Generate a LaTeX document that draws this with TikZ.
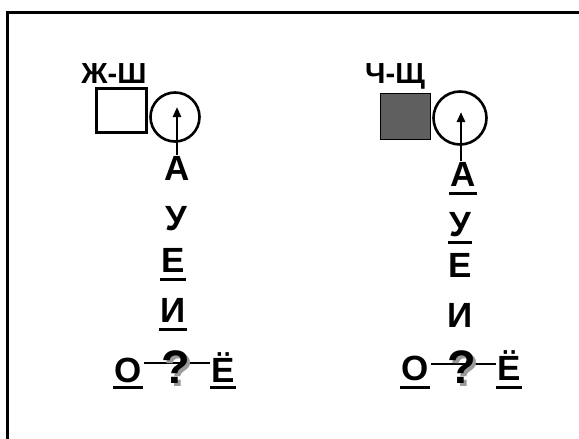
\documentclass[tikz,border=0pt]{standalone}
\usepackage{fontspec}
\setmainfont{Liberation Sans}
\usetikzlibrary{arrows.meta}
\definecolor{boxgray}{HTML}{5F5F5F}
\definecolor{shade}{HTML}{9A9A9A}
% question mark with a soft grey drop shadow behind it
\newcommand{\shadedq}{\makebox[0pt][l]{\hspace{3pt}\raisebox{-3pt}{\color{shade}?}}?}
\tikzset{
  letter/.style={font=\fontsize{35}{35}\selectfont\bfseries, inner sep=1pt, anchor=base},
  pair/.style={font=\fontsize{29}{29}\selectfont\bfseries, inner sep=0pt, anchor=base},
  qmark/.style={font=\fontsize{47}{47}\selectfont\bfseries, inner sep=0pt, anchor=base},
  uline/.style={line width=3pt},
  link/.style={line width=1.2pt},
  pointer/.style={line width=2.6pt, -{Triangle[length=10pt,width=8pt]}},
  ring/.style={draw, circle, line width=2.6pt, inner sep=0pt},
  frame/.style={line width=3pt},
}
\begin{document}
\begin{tikzpicture}[x=1pt, y=-1pt]
\useasboundingbox (0,0) rectangle (579,439);
% page frame (top and left edges)
\draw[frame] (7,439) -- (7,12) -- (579,12);

% ---- left column: Ж-Ш ----
\node[pair] (zh) at (114,83) {Ж-Ш};
\node[draw, line width=3pt, minimum width=50pt, minimum height=44pt, inner sep=0pt] (sq1) at (121,110) {};
\node[ring, minimum size=49pt] (c1) at (175,117) {};
\node[letter] (a1) at (177,180) {А};
\node[letter] (u1) at (176,230) {У};
\node[letter] (e1) at (173,272) {Е};
\node[letter] (i1) at (173,322) {И};
\node[letter] (o1) at (128,382) {О};
\node[letter] (yo1) at (223,382) {Ё};
\coordinate (t1) at (177,107);
\draw[pointer] (a1.north -| t1) -- (t1);
\draw[uline] (e1.base west) ++(0,7) coordinate (e1l) -- (e1l -| e1.base east);
\draw[uline] (i1.base west) ++(0,7) coordinate (i1l) -- (i1l -| i1.base east);
\draw[uline] (o1.base west) ++(0,5) coordinate (o1l) -- (o1l -| o1.base east);
\draw[uline] (yo1.base west) ++(0,5) coordinate (yo1l) -- (yo1l -| yo1.base east);
\draw[link] (o1.base east) ++(1,-19) coordinate (l1) -- (l1 -| yo1.base west);
\node[qmark] (q1) at (176,383) {\shadedq};

% ---- right column: Ч-Щ ----
\node[pair] (ch) at (395,83) {Ч-Щ};
\node[draw, fill=boxgray, line width=0.8pt, minimum width=50pt, minimum height=46pt, inner sep=0pt] (sq2) at (405,116) {};
\node[ring, minimum size=53pt] (c2) at (460,118) {};
\node[letter] (a2) at (463,186) {А};
\node[letter] (u2) at (460,236) {У};
\node[letter] (e2) at (460,277) {Е};
\node[letter] (i2) at (460,327) {И};
\node[letter] (o2) at (415,380) {О};
\node[letter] (yo2) at (509,380) {Ё};
\coordinate (t2) at (461,112);
\draw[pointer] (a2.north -| t2) -- (t2);
\draw[uline] (a2.base west) ++(0,7) coordinate (a2l) -- (a2l -| a2.base east);
\draw[uline] (u2.base west) ++(0,6) coordinate (u2l) -- (u2l -| u2.base east);
\draw[uline] (o2.base west) ++(0,7) coordinate (o2l) -- (o2l -| o2.base east);
\draw[uline] (yo2.base west) ++(0,7) coordinate (yo2l) -- (yo2l -| yo2.base east);
\draw[link] (o2.base east) ++(1,-16) coordinate (l2) -- (l2 -| yo2.base west);
\node[qmark] (q2) at (462,383) {\shadedq};
\end{tikzpicture}
\end{document}
